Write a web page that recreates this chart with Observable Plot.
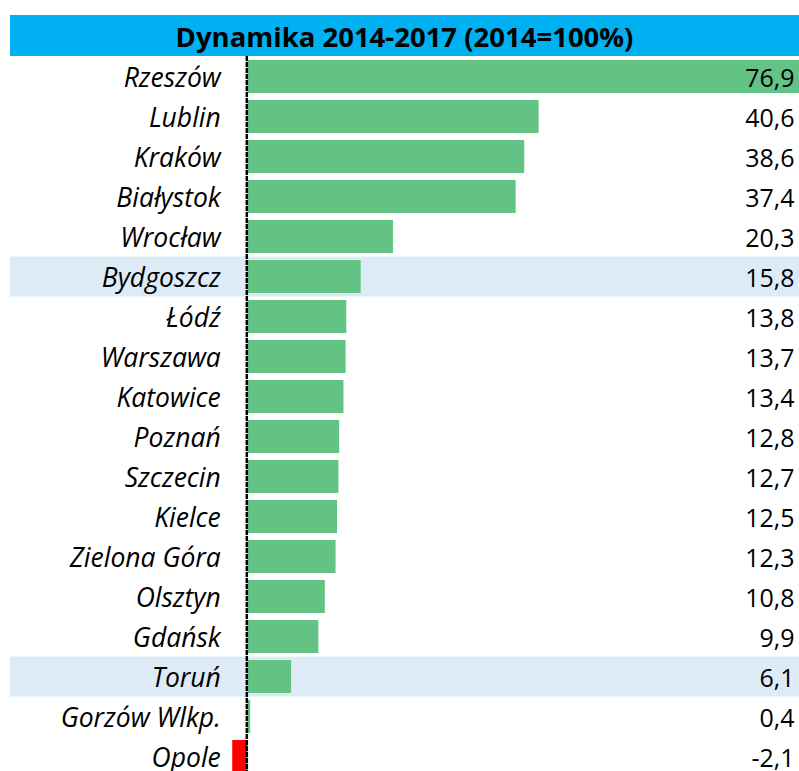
<!DOCTYPE html>
<html>
<head>
<meta charset="utf-8">
<script src="https://cdn.jsdelivr.net/npm/d3@7"></script>
<script src="https://cdn.jsdelivr.net/npm/@observablehq/plot@0.6"></script>
<style>
  body { margin: 0; background: #fff; overflow: hidden; }
  #title {
    margin: 15px 0 0 10px; width: 789px; height: 41px; background: #00B0F0;
    font-family: "Open Sans", Lato, sans-serif; font-weight: bold; font-size: 27.5px;
    color: #000; text-align: center; line-height: 43px; box-sizing: border-box;
    white-space: nowrap; overflow: hidden;
  }
  #chart svg { display: block; }
</style>
</head>
<body>
<div id="title">Dynamika 2014-2017 (2014=100%)</div>
<div id="chart"></div>
<script>
const cities = ["Rzeszów","Lublin","Kraków","Białystok","Wrocław","Bydgoszcz","Łódź","Warszawa","Katowice","Poznań","Szczecin","Kielce","Zielona Góra","Olsztyn","Gdańsk","Toruń","Gorzów Wlkp.","Opole"];
const values = [76.9,40.6,38.6,37.4,20.3,15.8,13.8,13.7,13.4,12.8,12.7,12.5,12.3,10.8,9.9,6.1,0.4,-2.1];
const highlighted = ["Bydgoszcz","Toruń"];
const xDomain = [-33.08, 76.9];

const data = cities.map((c, i) => ({city: c, value: values[i]}));
const font = "'Open Sans', Lato, sans-serif";

const chart = Plot.plot({
  width: 799,
  height: 720,
  marginLeft: 10,
  marginRight: 0,
  marginTop: 0,
  marginBottom: 0,
  x: {domain: xDomain, axis: null},
  y: {domain: cities, axis: null, paddingInner: 0.175, paddingOuter: 0.0875},
  marks: [
    Plot.barX(highlighted, {y: d => d, x1: xDomain[0], x2: xDomain[1], fill: "#DDEBF7", insetTop: -3.5, insetBottom: -3.5}),
    Plot.barX(data, {y: "city", x: "value", fill: d => d.value < 0 ? "#FF0000" : "#63C384"}),
    Plot.ruleX([0], {stroke: "#000", strokeWidth: 2.5, strokeDasharray: "5,1", dx: -1}),
    Plot.text(data, {y: "city", x: 0, text: "city", textAnchor: "end", dx: -27, dy: 2, fontStyle: "italic", fontSize: 26.5, fontFamily: font, fill: "#000"}),
    Plot.text(data, {y: "city", frameAnchor: "right", text: d => d.value.toFixed(1).replace(".", ","), textAnchor: "end", dx: -5, dy: 2, fontSize: 25, fontFamily: font, fill: "#000"})
  ]
});
document.getElementById("chart").appendChild(chart);
</script>
</body>
</html>
